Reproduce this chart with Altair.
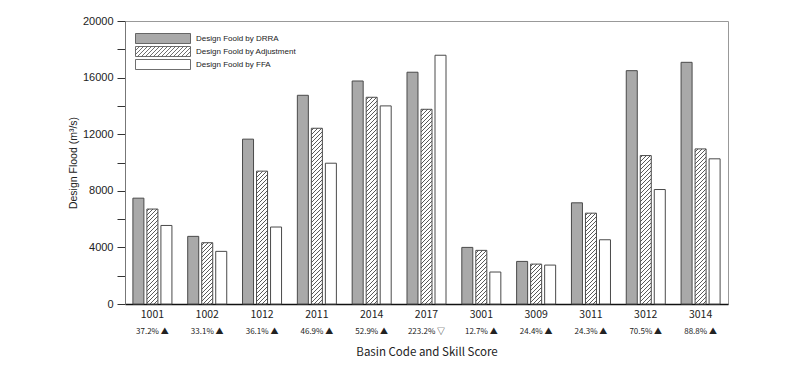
import altair as alt
import pandas as pd

codes = ["1001", "1002", "1012", "2011", "2014", "2017", "3001", "3009", "3011", "3012", "3014"]
drra = [7480, 4780, 11650, 14750, 15760, 16380, 4000, 3010, 7150, 16490, 17080]
adj = [6710, 4330, 9390, 12420, 14610, 13760, 3790, 2820, 6420, 10490, 10960]
ffa = [5550, 3720, 5440, 9950, 14000, 17580, 2260, 2750, 4540, 8090, 10260]
skill = ["37.2%", "33.1%", "36.1%", "46.9%", "52.9%", "223.2%", "12.7%", "24.4%", "24.3%", "70.5%", "88.8%"]
trend = ["▲", "▲", "▲", "▲", "▲", "▽", "▲", "▲", "▲", "▲", "▲"]
series = ["Design Foold by DRRA", "Design Foold by Adjustment", "Design Foold by FFA"]

# layout / style
W, H = 603, 283
YMAX = 20000
PAD_IN = 0.288
SUB_PAD = 3 / 14
step = W / 11
bw = step * (1 - PAD_IN)
BAR_W = bw / (3 - SUB_PAD) * (1 - SUB_PAD)
HATCH_P = 4.0
HATCH_LW = 1.0
HATCH_COL = "#5a5a5a"
GRAY = "#a9a9a9"
EDGE = "#4a4a4a"
XFONT = "Noto Sans CJK KR"


def hatch(value):
    h = max(value / YMAX * H, 1.0)
    L = BAR_W + h
    r = h / BAR_W
    a = (1 + r) / (1 + r * r)
    stops = [{"offset": 0, "color": "#ffffff"}]
    k = 0
    while True:
        s = (k + 0.5) * HATCH_P / L
        if s >= 1:
            break
        e = min(((k + 0.5) * HATCH_P + HATCH_LW) / L, 1)
        stops += [
            {"offset": s, "color": "#ffffff"},
            {"offset": s, "color": HATCH_COL},
            {"offset": e, "color": HATCH_COL},
            {"offset": e, "color": "#ffffff"},
        ]
        k += 1
    stops.append({"offset": 1, "color": "#ffffff"})
    return {"gradient": "linear", "x1": 0, "y1": 0, "x2": a, "y2": a * r, "stops": stops}


labels = [f"{c}|{s} {t}" for c, s, t in zip(codes, skill, trend)]
rows = []
for i, lab in enumerate(labels):
    rows.append({"label": lab, "series": series[0], "value": drra[i], "fillv": GRAY})
    rows.append({"label": lab, "series": series[1], "value": adj[i], "fillv": hatch(adj[i])})
    rows.append({"label": lab, "series": series[2], "value": ffa[i], "fillv": "#ffffff"})
df = pd.DataFrame(rows)

x_scale = alt.Scale(paddingInner=PAD_IN, paddingOuter=PAD_IN / 2)

bars = alt.Chart(df).mark_bar(stroke=EDGE, strokeWidth=1).encode(
    x=alt.X(
        "label:N", sort=labels, scale=x_scale,
        axis=alt.Axis(
            orient="bottom", title=None, labelExpr="split(datum.label, '|')[0]", labelAngle=0,
            ticks=False, domainColor="#111111", domainWidth=1.5, labelFont=XFONT,
            labelFontSize=10.5, labelColor="#222222", labelPadding=5,
        ),
    ),
    xOffset=alt.XOffset("series:N", sort=series, scale=alt.Scale(paddingInner=SUB_PAD, paddingOuter=0)),
    y=alt.Y(
        "value:Q", stack=None, scale=alt.Scale(domain=[0, YMAX], nice=False),
        axis=alt.Axis(
            values=list(range(0, YMAX + 1, 2000)),
            labelExpr="datum.value % 4000 == 0 ? datum.label : ''", format="d",
            tickSize=8, tickColor="#333333", domainColor="#777777",
            labelFont="Liberation Sans", labelFontSize=11, labelColor="#222222", labelPadding=4,
            title="Design Flood (m³/s)", titleFont="Liberation Sans", titleFontSize=10.5,
            titleFontWeight="normal", titleColor="#222222", titlePadding=4, grid=False,
        ),
    ),
    color=alt.Color("fillv:N", scale=None),
)

# legend symbols: wide rectangles (55 x 10 px), one hatched; unit = 5 px
SYM = 100
HW, HH = 5.5, 1.0
rect_path = f"M-{HW},-{HH}H{HW}V{HH}H-{HW}Z"
segs = []
x0 = -HW - 2 * HH
while x0 < HW:
    xa, ya = x0, HH
    xb, yb = x0 + 2 * HH, -HH
    if xa < -HW:
        ya = HH - (-HW - xa)
        xa = -HW
    if xb > HW:
        yb = -HH + (xb - HW)
        xb = HW
    if xb > xa:
        segs.append(f"M{xa:.3f},{ya:.3f}L{xb:.3f},{yb:.3f}")
    x0 += 0.8
hatch_path = rect_path + "".join(segs)

legend_kw = dict(
    title=None, orient="none", legendX=32.5, legendY=12, symbolSize=SYM,
    symbolStrokeWidth=0.8, symbolStrokeColor=EDGE, labelFont="Liberation Sans",
    labelFontSize=8, labelColor="#222222", labelOffset=27.5, rowPadding=-3.6, labelLimit=300,
)

leg_df = pd.DataFrame({"label": pd.Series([], dtype=str), "series": pd.Series([], dtype=str)})
legend_layer = alt.Chart(leg_df).mark_point(filled=True, strokeWidth=0.8, opacity=1).encode(
    x=alt.X(
        "label:N", sort=labels, scale=x_scale,
        axis=alt.Axis(
            orient="bottom", title="Basin Code and Skill Score",
            labelExpr="split(datum.label, '|')[1]", labelAngle=0,
            ticks=False, domain=False, offset=20, labelPadding=3, labelFont=XFONT,
            labelFontSize=8, labelColor="#222222", titleFont=XFONT, titleFontSize=11.5,
            titleFontWeight="normal", titleColor="#222222", titlePadding=11,
        ),
    ),
    fill=alt.Fill("series:N", scale=alt.Scale(domain=series, range=[GRAY, "#ffffff", "#ffffff"]),
                  legend=alt.Legend(**legend_kw)),
    stroke=alt.Stroke("series:N", scale=alt.Scale(domain=series, range=[EDGE, EDGE, EDGE]),
                      legend=alt.Legend(**legend_kw)),
    shape=alt.Shape("series:N", scale=alt.Scale(domain=series, range=[rect_path, hatch_path, rect_path]),
                    legend=alt.Legend(**legend_kw)),
)

chart = alt.layer(bars, legend_layer).resolve_axis(x="independent").properties(
    width=W, height=H,
    autosize=alt.AutoSizeParams(type="none"),
    padding={"left": 117, "top": 13, "right": 60, "bottom": 56},
).configure_view(stroke="#999999", strokeWidth=1)

chart.save("out.html", embed_options={"renderer": "svg", "actions": False})
